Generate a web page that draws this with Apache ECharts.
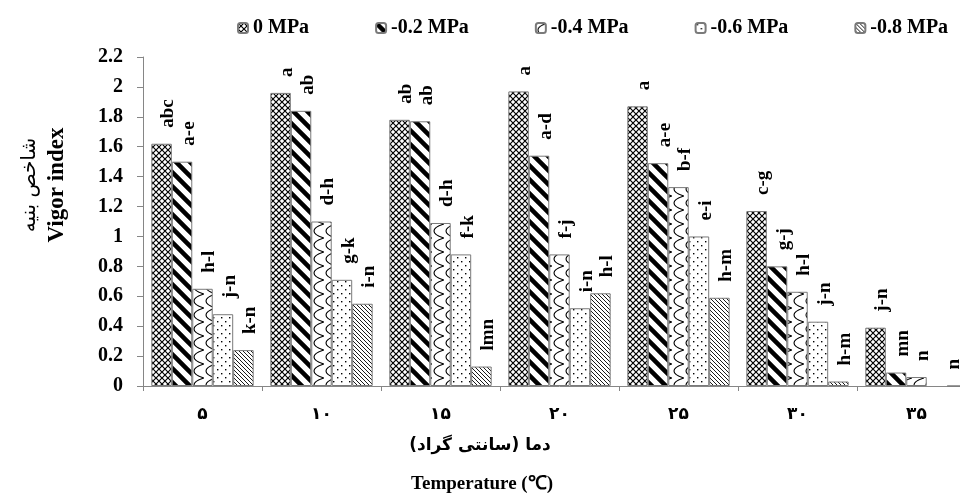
<!DOCTYPE html>
<html><head><meta charset="utf-8">
<script src="https://cdn.jsdelivr.net/npm/echarts@6/dist/echarts.min.js"></script>
<style>html,body{margin:0;padding:0;overflow:hidden;background:#fff}#c{width:980px;height:495px}</style>
</head><body><div id="c"></div>
<script>
const categories = ['۵','۱۰','۱۵','۲۰','۲۵','۳۰','۳۵'];
const seriesNames = ['0 MPa','-0.2 MPa','-0.4 MPa','-0.6 MPa','-0.8 MPa'];
const v00 = [1.62,1.96,1.78,1.97,1.87,1.17,0.39];
const v02 = [1.50,1.84,1.77,1.54,1.49,0.80,0.09];
const v04 = [0.65,1.10,1.09,0.88,1.33,0.63,0.06];
const v06 = [0.48,0.71,0.88,0.52,1.00,0.43,null];
const v08 = [0.24,0.55,0.13,0.62,0.59,0.03,0];
const l00 = ['abc','a','ab','a','a','c-g','j-n'];
const l02 = ['a-e','ab','ab','a-d','a-e','g-j','mn'];
const l04 = ['h-l','d-h','d-h','f-j','b-f','h-l','n'];
const l06 = ['j-n','g-k','f-k','i-n','e-i','j-n',''];
const l08 = ['k-n','i-n','lmn','h-l','h-m','h-m','n'];
const values = [v00,v02,v04,v06,v08];
const letters = [l00,l02,l04,l06,l08];

function mk(w,h,draw){
  const c=document.createElement('canvas');c.width=w;c.height=h;
  const g=c.getContext('2d');g.fillStyle='#fff';g.fillRect(0,0,w,h);
  g.strokeStyle='#000';g.fillStyle='#000';draw(g);
  return {image:c,repeat:'repeat'};
}
const patterns = [
  mk(6,6,g=>{g.lineWidth=1.2;g.beginPath();g.moveTo(0,0);g.lineTo(6,6);g.moveTo(6,0);g.lineTo(0,6);g.stroke();}),
  mk(14,14,g=>{g.lineWidth=4.5;g.beginPath();g.moveTo(-3,-3);g.lineTo(17,17);g.moveTo(-10,4);g.lineTo(10,24);g.moveTo(4,-10);g.lineTo(24,10);g.stroke();}),
  mk(12,14,g=>{g.lineWidth=1.1;g.beginPath();g.moveTo(12,0);g.quadraticCurveTo(2,3,2,7);g.quadraticCurveTo(2,11,12,14);g.stroke();}),
  mk(8,8,g=>{g.fillRect(1,1,1.4,1.4);g.fillRect(5,5,1.4,1.4);}),
  mk(4,4,g=>{g.lineWidth=0.9;g.beginPath();g.moveTo(-1,-1);g.lineTo(5,5);g.moveTo(-1,3);g.lineTo(1,5);g.moveTo(3,-1);g.lineTo(5,1);g.stroke();})
];

const serif = "'Liberation Serif','Times New Roman',serif";
const chart = echarts.init(document.getElementById('c'));
chart.setOption({
  animation:false,
  backgroundColor:'#fff',
  legend:{
    left:232, top:13, itemWidth:10, itemHeight:10, itemGap:66,
    textStyle:{fontFamily:serif,fontWeight:'bold',fontSize:20,color:'#000'},
    data:seriesNames
  },
  grid:{left:143, right:4, top:57, bottom:109},
  xAxis:{
    type:'category', data:categories,
    axisLine:{lineStyle:{color:'#868686',width:1}},
    axisTick:{show:true,length:5,lineStyle:{color:'#868686'}},
    axisLabel:{margin:20,color:'#000',fontFamily:"'DejaVu Sans',sans-serif",fontWeight:'bold',fontSize:17}
  },
  yAxis:{
    type:'value', min:0, max:2.2, interval:0.2,
    splitLine:{show:false},
    axisLine:{show:true,lineStyle:{color:'#868686',width:1}},
    axisTick:{show:true,length:6,inside:false,lineStyle:{color:'#868686'}},
    axisLabel:{margin:20,color:'#000',fontFamily:serif,fontWeight:'bold',fontSize:20}
  },
  graphic:[
    {type:'text',x:30,y:185,rotation:Math.PI/2,style:{text:'شاخص بنیه',font:"20px 'DejaVu Sans'",fill:'#000',textAlign:'center',textVerticalAlign:'middle'}},
    {type:'text',x:57,y:185,rotation:Math.PI/2,style:{text:'Vigor index',font:"bold 23px 'Liberation Serif'",fill:'#000',textAlign:'center',textVerticalAlign:'middle'}},
    {type:'text',x:480,y:446,style:{text:'دما (سانتی گراد)',font:"bold 17px 'DejaVu Sans'",fill:'#000',textAlign:'center',textVerticalAlign:'middle'}},
    {type:'text',x:482,y:484,style:{text:'Temperature (℃)',font:"bold 19px 'Liberation Serif'",fill:'#000',textAlign:'center',textVerticalAlign:'middle'}}
  ],
  series: seriesNames.map((n,i)=>({
    name:n, type:'bar',
    data:values[i].map(v=> v===0 ? {value:v,label:{offset:[0,-3]}} : v),
    barGap:'0%', barCategoryGap:'14%',
    itemStyle:{color:patterns[i],borderColor:'#7a7a7a',borderWidth:1},
    label:{
      show:true, position:'top', distance:16, rotate:90, align:'left', verticalAlign:'middle', offset:[0,7],
      fontFamily:serif, fontWeight:'bold', fontSize:19, color:'#000',
      formatter:p=>letters[i][p.dataIndex]
    }
  }))
});
</script></body></html>
